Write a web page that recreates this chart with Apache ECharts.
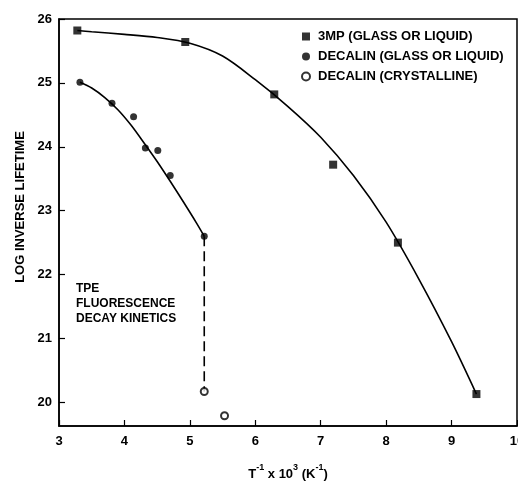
<!DOCTYPE html>
<html>
<head>
<meta charset="utf-8">
<script src="https://cdn.jsdelivr.net/npm/echarts@6/dist/echarts.min.js"></script>
<style>html,body{margin:0;padding:0;background:#fff}#c{width:518px;height:481px}</style>
</head>
<body>
<div id="c"></div>
<script>
// ---- data ----
const mp3Points = [[3.28, 25.82], [4.93, 25.64], [6.29, 24.82], [7.19, 23.72], [8.18, 22.50], [9.38, 20.13]];
const decalinGlassPoints = [[3.32, 25.01], [3.81, 24.68], [4.14, 24.47], [4.32, 23.98], [4.51, 23.94], [4.70, 23.55], [5.22, 22.60]];
const decalinCrystalPoints = [[5.22, 20.17], [5.53, 19.79]];
const mp3Curve = [[3.28, 25.82], [3.5, 25.80], [4.0, 25.76], [4.5, 25.71], [5.0, 25.62], [5.5, 25.42], [6.0, 25.05], [6.5, 24.63], [7.0, 24.15], [7.5, 23.55], [8.0, 22.82], [8.5, 21.93], [9.0, 20.95], [9.38, 20.13]];
const decalinCurve = [[3.32, 25.01], [3.5, 24.92], [3.7, 24.77], [3.9, 24.58], [4.1, 24.34], [4.3, 24.06], [4.5, 23.77], [4.7, 23.46], [4.9, 23.14], [5.1, 22.81], [5.22, 22.60]];
const decalinDashed = [[5.22, 22.60], [5.22, 20.17]];
const xTicks = [3, 4, 5, 6, 7, 8, 9, 10];
const yTicks = [20, 21, 22, 23, 24, 25, 26];
const legendNames = ['3MP (GLASS OR LIQUID)', 'DECALIN (GLASS OR LIQUID)', 'DECALIN (CRYSTALLINE)'];
const annotation = ['TPE', 'FLUORESCENCE', 'DECAY KINETICS'];
const yTitle = 'LOG INVERSE LIFETIME';

const FONT = '"Liberation Sans", Arial, sans-serif';
const chart = echarts.init(document.getElementById('c'), null, {renderer: 'canvas'});
const blackText = {color: '#000', fontFamily: FONT, fontWeight: 'bold', fontSize: 13};

chart.setOption({
  backgroundColor: '#fff',
  animation: false,
  grid: {left: 59, right: 1, top: 19, bottom: 55, outerBoundsMode: 'none', containLabel: false, show: true, borderColor: '#000', borderWidth: 1.5, backgroundColor: 'transparent'},
  xAxis: {
    type: 'value', min: xTicks[0], max: xTicks[xTicks.length - 1], interval: 1,
    axisLine: {lineStyle: {color: '#000', width: 1.5}},
    axisTick: {inside: true, length: 6, lineStyle: {color: '#000', width: 1.2}},
    axisLabel: Object.assign({margin: 9, hideOverlap: false}, blackText),
    splitLine: {show: false},
    name: '{b|T}{s|-1}{b| x 10}{s|3}{b| (K}{s|-1}{b|)}',
    nameLocation: 'middle', nameGap: 37,
    nameTextStyle: {rich: {
      b: {fontFamily: FONT, fontWeight: 'bold', fontSize: 13, color: '#000', verticalAlign: 'bottom', lineHeight: 18},
      s: {fontFamily: FONT, fontWeight: 'bold', fontSize: 9, color: '#000', verticalAlign: 'top', lineHeight: 18, padding: [0, 0, 8, 0]}
    }}
  },
  yAxis: {
    type: 'value', min: 19.63, max: 26,
    axisLine: {lineStyle: {color: '#000', width: 1.5}},
    axisTick: {inside: true, length: 6, customValues: yTicks, lineStyle: {color: '#000', width: 1.2}},
    axisLabel: Object.assign({margin: 7, customValues: yTicks}, blackText),
    splitLine: {show: false}
  },
  legend: {
    orient: 'vertical', left: 296, top: 25, itemWidth: 8, itemHeight: 8, itemGap: 7,
    textStyle: Object.assign({padding: [0, 0, 0, 3]}, blackText),
    data: [
      {name: legendNames[0], icon: 'rect'},
      {name: legendNames[1], icon: 'circle'},
      {name: legendNames[2], icon: 'emptyCircle'}
    ]
  },
  graphic: [
    {type: 'text', left: 76, top: 281, style: {text: annotation.join('\n'), fill: '#000', font: 'bold 12px ' + FONT, lineHeight: 15}},
    {type: 'text', x: 20, y: 207, rotation: Math.PI / 2, style: {text: yTitle, fill: '#000', font: 'bold 13px ' + FONT, align: 'center', verticalAlign: 'middle'}}
  ],
  series: [
    {type: 'line', data: mp3Curve, smooth: 0.3, showSymbol: false, lineStyle: {color: '#000', width: 1.6}, silent: true, z: 1},
    {type: 'line', data: decalinCurve, smooth: 0.3, showSymbol: false, lineStyle: {color: '#000', width: 1.6}, silent: true, z: 1},
    {type: 'line', data: decalinDashed, showSymbol: false, lineStyle: {color: '#000', width: 1.6, type: [10, 5]}, silent: true, z: 1},
    {name: legendNames[0], type: 'scatter', data: mp3Points, symbol: 'rect', symbolSize: 8, itemStyle: {color: '#000'}, z: 3},
    {name: legendNames[1], type: 'scatter', data: decalinGlassPoints, symbol: 'circle', symbolSize: 7, itemStyle: {color: '#000'}, z: 3},
    {name: legendNames[2], type: 'scatter', data: decalinCrystalPoints, symbol: 'emptyCircle', symbolSize: 7, itemStyle: {color: '#000', borderWidth: 1.2}, z: 3}
  ]
});
</script>
</body>
</html>
